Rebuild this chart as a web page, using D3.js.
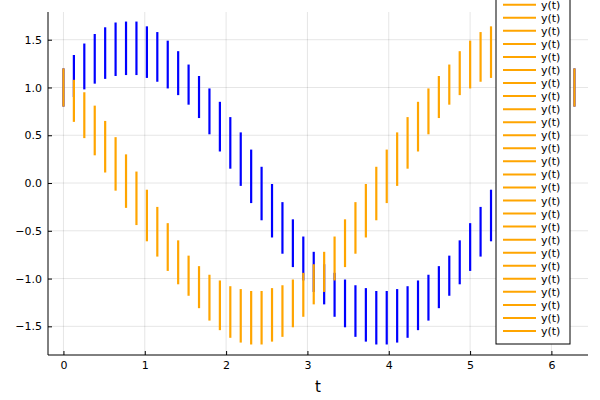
<!DOCTYPE html>
<html><head><meta charset="utf-8">
<script src="https://cdn.jsdelivr.net/npm/d3@7"></script>
<style>body{margin:0;background:#fff}text{font-family:"DejaVu Sans",sans-serif}</style>
</head><body><svg id="c" width="600" height="400"></svg>
<script>
const blueY=[1.00,1.12,1.22,1.30,1.36,1.40,1.41,1.41,1.37,1.32,1.24,1.15,1.03,0.90,0.75,0.59,0.42,0.25,0.07,-0.11,-0.29,-0.47,-0.63,-0.79,-0.93,
-1.06,-1.17,-1.26,-1.34,-1.38,-1.41,-1.41,-1.39,-1.35,-1.28,-1.20,-1.09,-0.97,-0.83,-0.67,-0.51,-0.34,-0.16,0.02,0.20,0.38,0.55,0.71,0.86,1.00];
const orangeY=[1.00,0.86,0.71,0.55,0.38,0.20,0.02,-0.16,-0.34,-0.51,-0.67,-0.83,-0.97,-1.09,-1.20,-1.28,-1.35,-1.39,-1.41,-1.41,-1.38,-1.34,-1.26,-1.17,-1.06,
-0.93,-0.79,-0.63,-0.47,-0.29,-0.11,0.07,0.25,0.42,0.59,0.75,0.90,1.03,1.15,1.24,1.32,1.37,1.41,1.41,1.40,1.36,1.30,1.22,1.12,1.00];
const errs=[.20,.22,.24,.26,.27,.28,.28,.28,.27,.26,.25,.23,.21,.22,.24,.26,.27,.28,.28,.28,.28,.27,.25,.23,.21,
.21,.23,.25,.27,.28,.28,.28,.28,.27,.26,.24,.22,.21,.23,.25,.26,.27,.28,.28,.28,.27,.26,.24,.22,.20];
const tVals=blueY.map((_,i)=>+(2*Math.PI*i/49).toFixed(4));
const xTicks=[0,1,2,3,4,5,6];
const yTicks=[-1.5,-1.0,-0.5,0.0,0.5,1.0,1.5];
const legendLabels=d3.range(26).map(()=>"y(t)");

const svg=d3.select("#c");
const L=48,R=588,T=12,B=355;
const x=d3.scaleLinear().domain([-0.19,6.45]).range([L,R]);
const y=d3.scaleLinear().domain([-1.80,1.79]).range([B,T]);
const g=svg.append("g");
g.selectAll(".gx").data(xTicks).enter().append("line").attr("x1",d=>x(d)).attr("x2",d=>x(d)).attr("y1",T).attr("y2",B).attr("stroke","#000").attr("stroke-opacity",0.1);
g.selectAll(".gy").data(yTicks).enter().append("line").attr("y1",d=>y(d)).attr("y2",d=>y(d)).attr("x1",L).attr("x2",R).attr("stroke","#000").attr("stroke-opacity",0.1);
const xa=svg.append("g").attr("transform",`translate(0,${B})`).call(d3.axisBottom(x).tickValues(xTicks).tickSize(-4).tickPadding(6).tickFormat(d3.format("d")));
const ya=svg.append("g").attr("transform",`translate(${L},0)`).call(d3.axisLeft(y).tickValues(yTicks).tickSize(-4).tickPadding(6).tickFormat(d=>d3.format(".1f")(d).replace("-","\u2212")));
[xa,ya].forEach(a=>{a.select(".domain").attr("stroke","#000");a.selectAll("text").attr("font-size",11).attr("fill","#000");a.selectAll(".tick line").attr("stroke","#000");});
xa.select(".domain").attr("d",`M${L},0H${R}`);
ya.select(".domain").attr("d",`M0,${T}V${B}`);
svg.append("text").attr("x",(L+R)/2).attr("y",392).attr("text-anchor","middle").attr("font-size",15).text("t");
function draw(vals,color){
 svg.append("g").selectAll("line").data(vals).enter().append("line")
  .attr("x1",(d,i)=>x(tVals[i])).attr("x2",(d,i)=>x(tVals[i]))
  .attr("y1",(d,i)=>y(d-errs[i])).attr("y2",(d,i)=>y(d+errs[i]))
  .attr("stroke",color).attr("stroke-width",2.2);
}
draw(blueY,"#0000ff");
draw(orangeY,"#ffa500");
const lg=svg.append("g");
const bottomRow=331, rowH=13.05, n=legendLabels.length;
lg.append("rect").attr("x",496).attr("y",-2).attr("width",74).attr("height",346).attr("fill","#fff").attr("stroke","#000").attr("stroke-width",1);
legendLabels.forEach((lab,k)=>{
 const yy=bottomRow-(n-1-k)*rowH;
 lg.append("line").attr("x1",503).attr("x2",536).attr("y1",yy).attr("y2",yy).attr("stroke","#ffa500").attr("stroke-width",2);
 lg.append("text").attr("x",541).attr("y",yy+4).attr("font-size",11).text(lab);
});
</script></body></html>
